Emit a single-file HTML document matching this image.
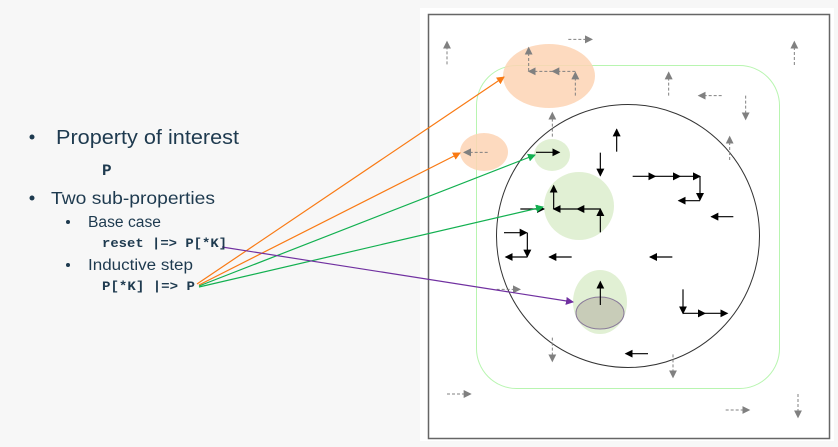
<!DOCTYPE html>
<html><head><meta charset="utf-8"><style>
html,body{margin:0;padding:0;background:#f7f7f7;width:838px;height:447px;overflow:hidden;font-family:"Liberation Sans",sans-serif}
</style></head><body>
<svg width="838" height="447" viewBox="0 0 838 447" xmlns="http://www.w3.org/2000/svg">
<defs>
<marker id="bk" markerWidth="24" markerHeight="24" refX="21" refY="12" orient="auto" markerUnits="userSpaceOnUse"><path d="M0,0 L24,12 L0,24 z" fill="#000"/></marker>
<marker id="gy" markerWidth="24" markerHeight="24" refX="21" refY="12" orient="auto" markerUnits="userSpaceOnUse"><path d="M0,0 L24,12 L0,24 z" fill="#808080"/></marker>
<marker id="or" markerWidth="8" markerHeight="8" refX="7" refY="4" orient="auto" markerUnits="userSpaceOnUse"><path d="M0,0 L8,4 L0,8 z" fill="#f97a14"/></marker>
<marker id="gr" markerWidth="8" markerHeight="8" refX="7" refY="4" orient="auto" markerUnits="userSpaceOnUse"><path d="M0,0 L8,4 L0,8 z" fill="#12b050"/></marker>
<marker id="pu" markerWidth="8" markerHeight="8" refX="7" refY="4" orient="auto" markerUnits="userSpaceOnUse"><path d="M0,0 L8,4 L0,8 z" fill="#7030a0"/></marker>
</defs>
<rect x="420" y="8" width="414" height="433" fill="#fff"/>
<rect x="428.5" y="14.5" width="401" height="424" fill="#fff" stroke="#666" stroke-width="1.5"/>
<rect x="476.5" y="65.5" width="303" height="323" rx="40" fill="none" stroke="#b8f5b0" stroke-width="1"/>
<circle cx="628" cy="236" r="131.5" fill="none" stroke="#333" stroke-width="1"/>
<g fill-opacity="0.85">
<ellipse cx="549" cy="76" rx="46" ry="32" fill="#fdd4b4"/>
<ellipse cx="484" cy="152" rx="24" ry="19" fill="#fdd4b4"/>
<ellipse cx="552" cy="155" rx="18" ry="16" fill="#dcedcc"/>
<ellipse cx="579" cy="206" rx="35" ry="34" fill="#dcedcc"/>
<ellipse cx="600" cy="302" rx="27" ry="32" fill="#dcedcc"/>
</g>
<ellipse cx="600" cy="313" rx="24" ry="16" fill="#c8ccb8" stroke="#8a7a9a" stroke-width="1"/>
<g transform="translate(420,10) scale(0.3333333)">
<g stroke="#808080" stroke-width="3" stroke-dasharray="9,6" fill="none">
<path d="M81,163V95" marker-end="url(#gy)"/>
<path d="M445,88H516" marker-end="url(#gy)"/>
<path d="M1123,165V95" marker-end="url(#gy)"/>
<path d="M326,183V113" marker-end="url(#gy)"/>
<path d="M466,184H397" marker-end="url(#gy)"/>
<path d="M397,184H326" marker-end="url(#gy)"/>
<path d="M466,257V187" marker-end="url(#gy)"/>
<path d="M746,257V187" marker-end="url(#gy)"/>
<path d="M905,257H836" marker-end="url(#gy)"/>
<path d="M977,257V328" marker-end="url(#gy)"/>
<path d="M397,380V308" marker-end="url(#gy)"/>
<path d="M929,450V380" marker-end="url(#gy)"/>
<path d="M203,427H132" marker-end="url(#gy)"/>
<path d="M230,838H300" marker-end="url(#gy)"/>
<path d="M397,983V1054" marker-end="url(#gy)"/>
<path d="M759,1033V1102" marker-end="url(#gy)"/>
<path d="M81,1152H152" marker-end="url(#gy)"/>
<path d="M917,1200H988" marker-end="url(#gy)"/>
<path d="M1134,1152V1222" marker-end="url(#gy)"/>
</g>
<g stroke="#000" stroke-width="3.5" fill="none">
<path d="M590,425V358" marker-end="url(#bk)"/>
<path d="M541,428V497" marker-end="url(#bk)"/>
<path d="M638,499H706" marker-end="url(#bk)"/>
<path d="M706,499H780" marker-end="url(#bk)"/>
<path d="M780,499H840" marker-end="url(#bk)"/>
<path d="M840,499V570" marker-end="url(#bk)"/>
<path d="M840,572H776" marker-end="url(#bk)"/>
<path d="M940,620H874" marker-end="url(#bk)"/>
<path d="M301,597H372" marker-end="url(#bk)"/>
<path d="M401,597V527" marker-end="url(#bk)"/>
<path d="M541,597H472" marker-end="url(#bk)"/>
<path d="M472,597H401" marker-end="url(#bk)"/>
<path d="M541,667V597" marker-end="url(#bk)"/>
<path d="M348,427H418" marker-end="url(#bk)"/>
<path d="M252,668H320" marker-end="url(#bk)"/>
<path d="M322,668V740" marker-end="url(#bk)"/>
<path d="M322,741H257" marker-end="url(#bk)"/>
<path d="M455,741H388" marker-end="url(#bk)"/>
<path d="M757,741H690" marker-end="url(#bk)"/>
<path d="M541,885V815" marker-end="url(#bk)"/>
<path d="M789,838V910" marker-end="url(#bk)"/>
<path d="M789,910H855" marker-end="url(#bk)"/>
<path d="M855,910H922" marker-end="url(#bk)"/>
<path d="M684,1031H617" marker-end="url(#bk)"/>
</g>
</g>
<g stroke-width="1.2" fill="none">
<path d="M197,284L504,77" stroke="#f97a14" marker-end="url(#or)"/>
<path d="M199,285L460,153" stroke="#f97a14" marker-end="url(#or)"/>
<path d="M199,286L535,155" stroke="#12b050" marker-end="url(#gr)"/>
<path d="M199,287L543,207" stroke="#12b050" marker-end="url(#gr)"/>
<path d="M222,247L573,302" stroke="#7030a0" marker-end="url(#pu)"/>
</g>
<g fill="#1e3a4f">
<circle cx="32" cy="137" r="2.5"/>
<text x="56" y="144" font-size="20" textLength="183" lengthAdjust="spacingAndGlyphs">Property of interest</text>
<text x="102" y="175" font-size="16" font-weight="bold" font-family="Liberation Mono,monospace">P</text>
<circle cx="32" cy="198" r="2.5"/>
<text x="51" y="204" font-size="17.5" textLength="164" lengthAdjust="spacingAndGlyphs">Two sub-properties</text>
<circle cx="68" cy="222" r="2"/>
<text x="88" y="227" font-size="15.5" textLength="73" lengthAdjust="spacingAndGlyphs">Base case</text>
<text x="102" y="247" font-size="13" font-weight="bold" font-family="Liberation Mono,monospace" textLength="125" lengthAdjust="spacingAndGlyphs">reset |=&gt; P[*K]</text>
<circle cx="68" cy="265" r="2"/>
<text x="88" y="270" font-size="15.5" textLength="105" lengthAdjust="spacingAndGlyphs">Inductive step</text>
<text x="102" y="290" font-size="13" font-weight="bold" font-family="Liberation Mono,monospace" textLength="93" lengthAdjust="spacingAndGlyphs">P[*K] |=&gt; P</text>
</g>
</svg>
</body></html>
